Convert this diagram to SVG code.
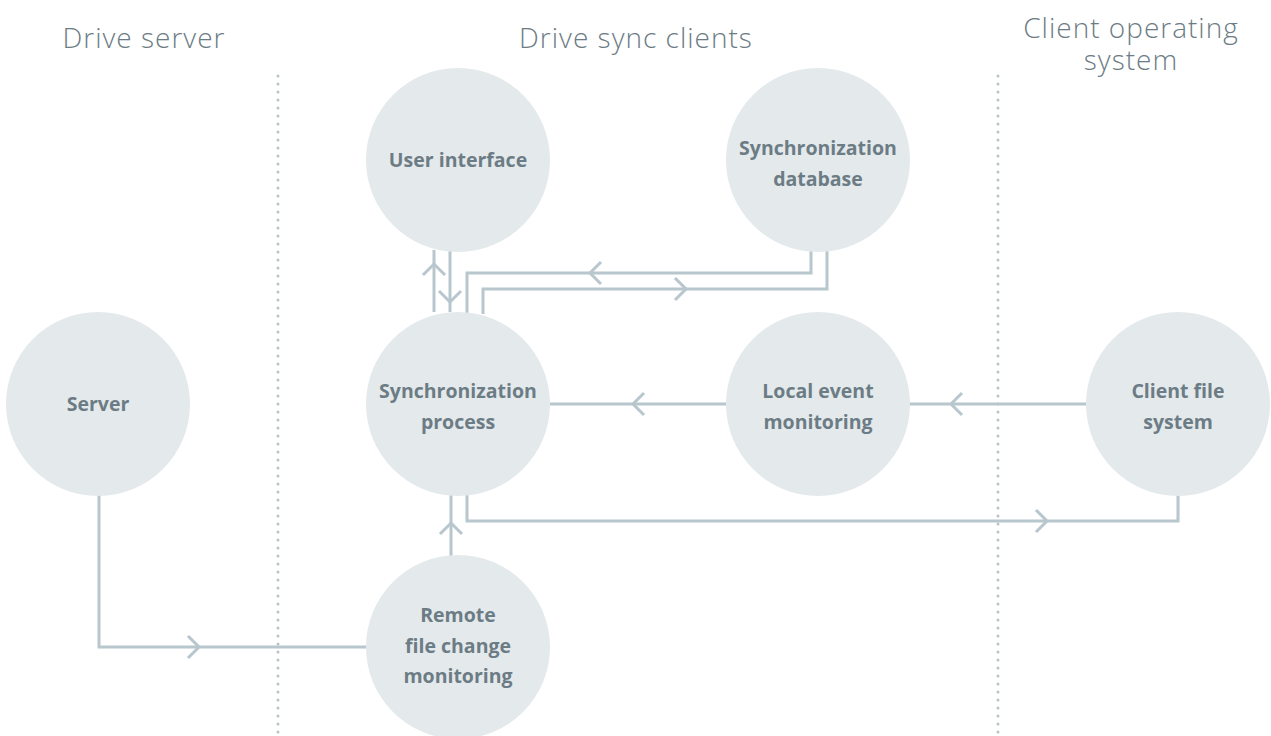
<svg xmlns="http://www.w3.org/2000/svg" xmlns:xlink="http://www.w3.org/1999/xlink" width="1271" height="736" viewBox="0 0 1271 736">
<style>
.bg{fill:#ffffff}
.node{fill:#e4e9ec}
.lbl{font-family:"Open Sans","Noto Sans",sans-serif;font-weight:700;font-size:19.5px;fill:#6c7c85;text-anchor:middle}
.hdr{font-family:"Open Sans","Noto Sans",sans-serif;font-weight:300;font-size:28px;letter-spacing:1px;fill:#6c7c85;text-anchor:middle}
.sep{stroke:#b5c3cb;stroke-width:3;stroke-linecap:round;stroke-dasharray:0 8;fill:none}
.ln{stroke:#b8c6ce;stroke-width:3;fill:none}
.chev{stroke:#b8c6ce;stroke-width:3;fill:none}
</style>
<defs>
<path id="chev" class="chev" d="M-11,-11 L0,0 L-11,11"/>
</defs>
<rect class="bg" width="1271" height="736"/>
<g id="headers">
<text class="hdr" x="144" y="48">Drive server</text>
<text class="hdr" x="636" y="48">Drive sync clients</text>
<text class="hdr" x="1131" y="38">Client operating</text>
<text class="hdr" x="1131" y="70">system</text>
</g>
<g id="separators">
<line class="sep" x1="278" y1="76" x2="278" y2="736"/>
<line class="sep" x1="998" y1="76" x2="998" y2="736"/>
</g>
<g id="connectors">
<path class="ln" d="M434,312 V250"/>
<use xlink:href="#chev" transform="translate(434,264) rotate(-90)"/>
<path class="ln" d="M450,250 V312"/>
<use xlink:href="#chev" transform="translate(450,302) rotate(90)"/>
<path class="ln" d="M811,248 V273 H467 V314"/>
<use xlink:href="#chev" transform="translate(590,273) rotate(180)"/>
<path class="ln" d="M483,314 V289 H827 V248"/>
<use xlink:href="#chev" transform="translate(686,289)"/>
<path class="ln" d="M910,404 H550"/>
<use xlink:href="#chev" transform="translate(633,404) rotate(180)"/>
<path class="ln" d="M1086,404 H910"/>
<use xlink:href="#chev" transform="translate(951,404) rotate(180)"/>
<path class="ln" d="M467,494 V521 H1178 V494"/>
<use xlink:href="#chev" transform="translate(1047,521)"/>
<path class="ln" d="M451,556 V494"/>
<use xlink:href="#chev" transform="translate(451,523) rotate(-90)"/>
<path class="ln" d="M99,494 V647 H370"/>
<use xlink:href="#chev" transform="translate(199,647)"/>
</g>
<g id="user-interface">
<circle class="node" cx="458" cy="160" r="92"/>
<text class="lbl" x="458" y="167">User interface</text>
</g>
<g id="sync-database">
<circle class="node" cx="818" cy="160" r="92"/>
<text class="lbl" x="818" y="155">Synchronization</text>
<text class="lbl" x="818" y="186">database</text>
</g>
<g id="server">
<circle class="node" cx="98" cy="404" r="92"/>
<text class="lbl" x="98" y="411">Server</text>
</g>
<g id="sync-process">
<circle class="node" cx="458" cy="404" r="92"/>
<text class="lbl" x="458" y="398">Synchronization</text>
<text class="lbl" x="458" y="429">process</text>
</g>
<g id="local-event-monitoring">
<circle class="node" cx="818" cy="404" r="92"/>
<text class="lbl" x="818" y="398">Local event</text>
<text class="lbl" x="818" y="429">monitoring</text>
</g>
<g id="client-file-system">
<circle class="node" cx="1178" cy="404" r="92"/>
<text class="lbl" x="1178" y="398">Client file</text>
<text class="lbl" x="1178" y="429">system</text>
</g>
<g id="remote-file-change-monitoring">
<circle class="node" cx="458" cy="647" r="92"/>
<text class="lbl" x="458" y="622">Remote</text>
<text class="lbl" x="458" y="653">file change</text>
<text class="lbl" x="458" y="683">monitoring</text>
</g>
</svg>
